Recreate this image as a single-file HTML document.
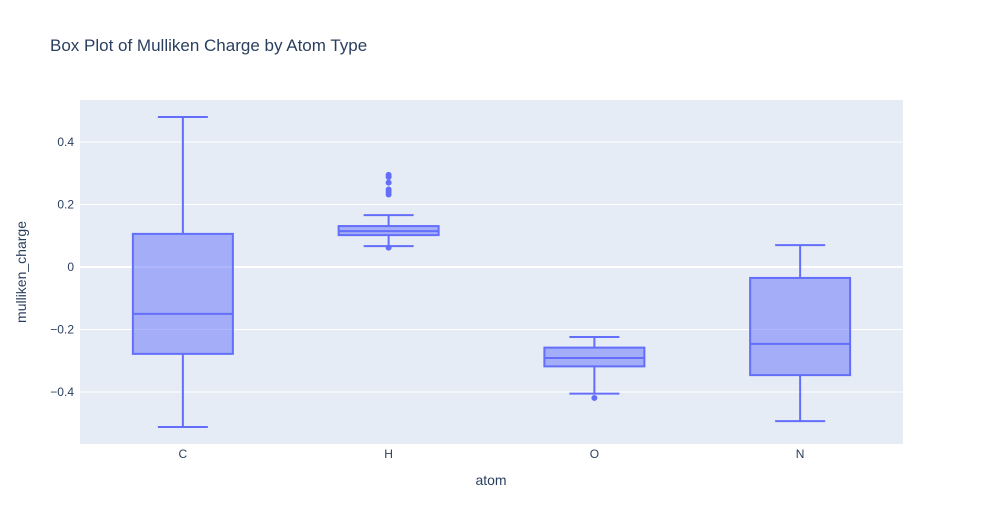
<!DOCTYPE html>
<html><head><meta charset="utf-8"><style>
body{margin:0;background:#fff;font-family:"Liberation Sans",sans-serif}
svg text{font-family:"Liberation Sans",sans-serif}
</style></head><body>
<svg id="chart" width="984" height="525">
<rect x="0" y="0" width="984" height="525" fill="#fff"/>
<text x="50" y="51" font-size="17" fill="#2a3f5f">Box Plot of Mulliken Charge by Atom Type</text>
<rect x="80" y="100" width="823" height="344" fill="#e5ecf6"/>
<g id="grid"></g><g id="marks"></g>
<text x="491" y="485" font-size="14" fill="#2a3f5f" text-anchor="middle">atom</text>
<text transform="translate(26,272) rotate(-90)" font-size="14" fill="#2a3f5f" text-anchor="middle">mulliken_charge</text>
</svg>
<script>
const categories=["C","H","O","N"];
const lowerWhisker=[-0.512,0.067,-0.405,-0.493];
const q1=[-0.278,0.102,-0.318,-0.346];
const median=[-0.15,0.115,-0.291,-0.246];
const q3=[0.106,0.131,-0.258,-0.035];
const upperWhisker=[0.48,0.166,-0.224,0.07];
const outlierCat=["H","H","H","H","H","H","H","O"];
const outlierVal=[0.295,0.288,0.27,0.248,0.24,0.232,0.062,-0.419];
const yTicks=[-0.4,-0.2,0,0.2,0.4];
const yTickLabels=["−0.4","−0.2","0","0.2","0.4"];
const NS="http://www.w3.org/2000/svg";
const X0=80,PW=823,Y0=267,K=312.5;
function y(v){return Y0-v*K;}
function x(c){const i=categories.indexOf(c);return X0+PW*(i+0.5)/categories.length;}
function mk(t,a,p){const e=document.createElementNS(NS,t);for(const k in a)e.setAttribute(k,a[k]);p.appendChild(e);return e;}
const g=document.getElementById('grid'),m=document.getElementById('marks');
yTicks.forEach((v,i)=>{
 const l=mk('line',{x1:X0,x2:X0+PW,y1:y(v),y2:y(v),stroke:'#fff','stroke-width':v===0?2:1},g);
 
 
 const t=mk('text',{x:X0-6,y:y(v)+4,'font-size':12,fill:'#2a3f5f','text-anchor':'end'},g);
 t.textContent=yTickLabels[i];
 
 
});
const bw=100,ww=50,col='#636efa';
categories.forEach((c,i)=>{
 const cx=x(c);
 const grp=mk('g',{},m);
 
 
 mk('line',{x1:cx,x2:cx,y1:y(upperWhisker[i]),y2:y(q3[i]),stroke:col,'stroke-width':2},grp);
 mk('line',{x1:cx,x2:cx,y1:y(q1[i]),y2:y(lowerWhisker[i]),stroke:col,'stroke-width':2},grp);
 mk('line',{x1:cx-ww/2,x2:cx+ww/2,y1:y(upperWhisker[i]),y2:y(upperWhisker[i]),stroke:col,'stroke-width':2},grp);
 mk('line',{x1:cx-ww/2,x2:cx+ww/2,y1:y(lowerWhisker[i]),y2:y(lowerWhisker[i]),stroke:col,'stroke-width':2},grp);
 mk('rect',{x:cx-bw/2,y:y(q3[i]),width:bw,height:y(q1[i])-y(q3[i]),fill:'rgba(99,110,250,0.5)',stroke:col,'stroke-width':2},grp);
 mk('line',{x1:cx-bw/2,x2:cx+bw/2,y1:y(median[i]),y2:y(median[i]),stroke:col,'stroke-width':2},grp);
 const t=mk('text',{x:cx,y:458,'font-size':12,fill:'#2a3f5f','text-anchor':'middle'},m);
 t.textContent=c;
 
 
});
outlierVal.forEach((v,i)=>{
 const p=mk('circle',{cx:x(outlierCat[i]),cy:y(v),r:3,fill:col},m);
 
 
});
</script>
</body></html>
